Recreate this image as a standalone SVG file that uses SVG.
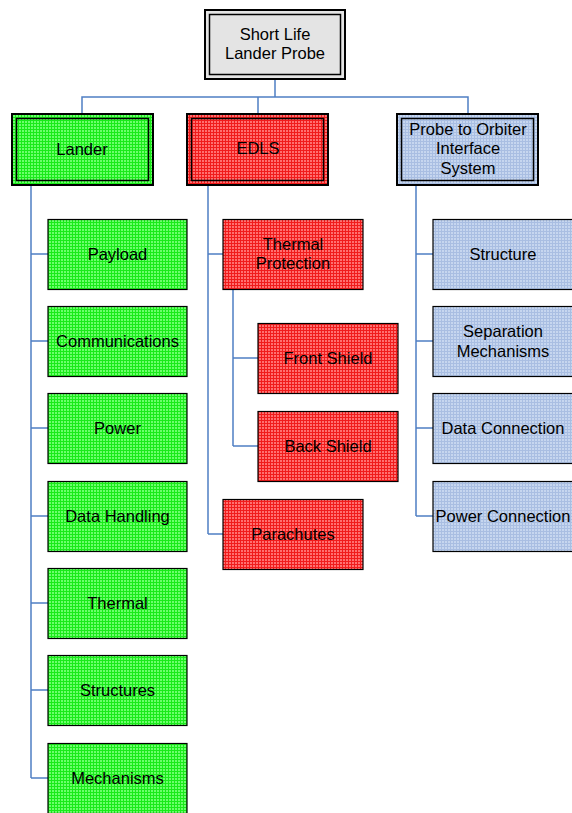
<svg xmlns="http://www.w3.org/2000/svg" width="572" height="813" viewBox="0 0 572 813">
  <style>
    text { font-family: "Liberation Sans", Arial, sans-serif; font-size: 16.5px; fill: #000; text-anchor: middle; }
    .box { stroke: #000; stroke-width: 1.2; }
    .outer { stroke: #000; stroke-width: 2; }
    .inner { fill: none; stroke: #000; stroke-width: 1.5; }
    .green { fill: url(#gridGreen); }
    .red { fill: url(#gridRed); }
    .blue { fill: url(#gridBlue); }
    .gray { fill: #e4e4e4; }
    .conn { fill: none; stroke: #4f7fc4; stroke-width: 1.5; }
  </style>
  <defs>
    <pattern id="gridGreen" width="3" height="3" patternUnits="userSpaceOnUse">
      <rect width="3" height="3" fill="#6cff6c"/>
      <rect width="3" height="1" fill="#1aea1a"/>
      <rect width="1" height="3" fill="#1aea1a"/>
    </pattern>
    <pattern id="gridRed" width="3" height="3" patternUnits="userSpaceOnUse">
      <rect width="3" height="3" fill="#ff7070"/>
      <rect width="3" height="1" fill="#f01c1c"/>
      <rect width="1" height="3" fill="#f01c1c"/>
    </pattern>
    <pattern id="gridBlue" width="3" height="3" patternUnits="userSpaceOnUse">
      <rect width="3" height="3" fill="#c6d6ef"/>
      <rect width="3" height="1" fill="#a9bee2"/>
      <rect width="1" height="3" fill="#a9bee2"/>
    </pattern>
  </defs>

  <!-- connectors -->
  <g id="connectors">
    <path class="conn" d="M275 79 V97 M82 114 V97 H468 V114 M258 97 V114"/>
    <!-- Lander branch -->
    <path class="conn" d="M31 185 V778 M31 254 H48 M31 341 H48 M31 428 H48 M31 516 H48 M31 603 H48 M31 690 H48 M31 778 H48"/>
    <!-- EDLS branch -->
    <path class="conn" d="M208 185 V534 M208 254 H223 M208 534 H223"/>
    <path class="conn" d="M233 289 V446 M233 358 H258 M233 446 H258"/>
    <!-- Interface branch -->
    <path class="conn" d="M416 185 V516 M416 254 H433 M416 341 H433 M416 428 H433 M416 516 H433"/>
  </g>

  <!-- top level -->
  <g id="root">
    <rect class="outer gray" x="205" y="10" width="140" height="69"/>
    <rect class="inner" x="209.5" y="14.5" width="131" height="60"/>
    <text x="275" y="40">Short Life</text>
    <text x="275" y="59">Lander Probe</text>
  </g>

  <g id="lander">
    <rect class="outer green" x="12" y="114" width="141" height="71"/>
    <rect class="inner" x="16.5" y="118.5" width="132" height="62"/>
    <text x="82" y="155">Lander</text>
  </g>

  <g id="edls">
    <rect class="outer red" x="187" y="114" width="141" height="71"/>
    <rect class="inner" x="191.5" y="118.5" width="132" height="62"/>
    <text x="258" y="154">EDLS</text>
  </g>

  <g id="interface">
    <rect class="outer blue" x="397" y="114" width="141" height="71"/>
    <rect class="inner" x="401.5" y="118.5" width="132" height="62"/>
    <text x="468" y="135">Probe to Orbiter</text>
    <text x="468" y="154">Interface</text>
    <text x="468" y="174">System</text>
  </g>

  <!-- Lander subsystems -->
  <g id="payload">
    <rect class="box green" x="48" y="219.5" width="139" height="70"/>
    <text x="117.5" y="260">Payload</text>
  </g>
  <g id="communications">
    <rect class="box green" x="48" y="306.5" width="139" height="70"/>
    <text x="117.5" y="347">Communications</text>
  </g>
  <g id="power">
    <rect class="box green" x="48" y="393.5" width="139" height="70"/>
    <text x="117.5" y="434">Power</text>
  </g>
  <g id="data-handling">
    <rect class="box green" x="48" y="481.5" width="139" height="70"/>
    <text x="117.5" y="522">Data Handling</text>
  </g>
  <g id="thermal">
    <rect class="box green" x="48" y="568.5" width="139" height="70"/>
    <text x="117.5" y="609">Thermal</text>
  </g>
  <g id="structures">
    <rect class="box green" x="48" y="655.5" width="139" height="70"/>
    <text x="117.5" y="696">Structures</text>
  </g>
  <g id="mechanisms">
    <rect class="box green" x="48" y="743.5" width="139" height="70"/>
    <text x="117.5" y="784">Mechanisms</text>
  </g>

  <!-- EDLS subsystems -->
  <g id="thermal-protection">
    <rect class="box red" x="223" y="219.5" width="140" height="70"/>
    <text x="293" y="250">Thermal</text>
    <text x="293" y="269">Protection</text>
  </g>
  <g id="front-shield">
    <rect class="box red" x="258" y="323.5" width="140" height="70"/>
    <text x="328" y="364">Front Shield</text>
  </g>
  <g id="back-shield">
    <rect class="box red" x="258" y="411.5" width="140" height="70"/>
    <text x="328" y="452">Back Shield</text>
  </g>
  <g id="parachutes">
    <rect class="box red" x="223" y="499.5" width="140" height="70"/>
    <text x="293" y="540">Parachutes</text>
  </g>

  <!-- Interface subsystems -->
  <g id="structure">
    <rect class="box blue" x="433" y="219.5" width="141" height="70"/>
    <text x="503" y="260">Structure</text>
  </g>
  <g id="separation">
    <rect class="box blue" x="433" y="306.5" width="141" height="70"/>
    <text x="503" y="337">Separation</text>
    <text x="503" y="357">Mechanisms</text>
  </g>
  <g id="data-connection">
    <rect class="box blue" x="433" y="393.5" width="141" height="70"/>
    <text x="503" y="434">Data Connection</text>
  </g>
  <g id="power-connection">
    <rect class="box blue" x="433" y="481.5" width="141" height="70"/>
    <text x="503" y="522">Power Connection</text>
  </g>
</svg>
